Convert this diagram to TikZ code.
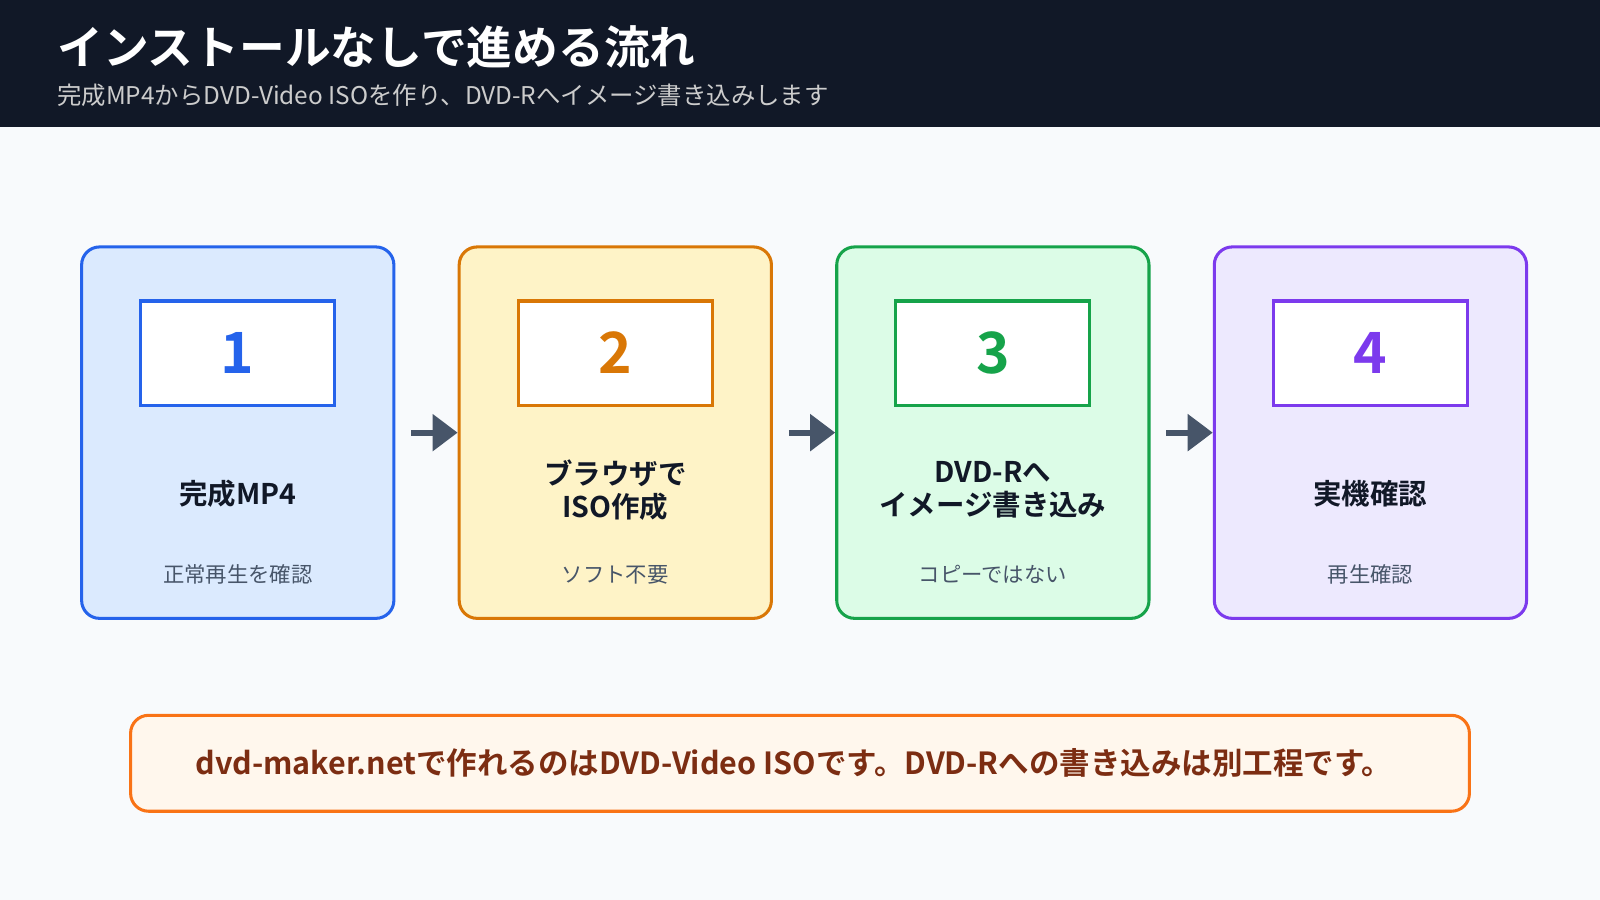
\documentclass[tikz,border=0pt]{standalone}
\usepackage{fontspec}
\setmainfont{Noto Sans CJK JP}[BoldFont={Noto Sans CJK JP Bold}]
\usetikzlibrary{arrows.meta}
\definecolor{header}{HTML}{111827}
\definecolor{fundo}{HTML}{F8FAFC}
\definecolor{cinza}{HTML}{475569}
\definecolor{azul}{HTML}{2563EB}\definecolor{azulc}{HTML}{DBEAFE}
\definecolor{laranja}{HTML}{D97706}\definecolor{laranjac}{HTML}{FEF3C7}
\definecolor{verde}{HTML}{16A34A}\definecolor{verdec}{HTML}{DCFCE7}
\definecolor{roxo}{HTML}{7C3AED}\definecolor{roxoc}{HTML}{EDE9FE}
\definecolor{notab}{HTML}{F97316}\definecolor{notaf}{HTML}{FFF7ED}\definecolor{notat}{HTML}{7C2D12}
\newcommand{\px}[1]{\fontsize{\fpeval{#1*0.567}pt}{\fpeval{#1*0.7}pt}\selectfont}
\newcommand{\titulo}[1]{\begin{tabular}{c}#1\end{tabular}}
\tikzset{
  cartao/.style={draw=#1, fill=#1c, line width=1.7pt, rounded corners=10pt, minimum width=61.2mm, minimum height=72.8mm},
  numero/.style={draw=#1, fill=white, line width=1.7pt, minimum width=38mm, minimum height=20.4mm, text=#1, font=\px{56}\bfseries},
  nome/.style={font=\px{28}\bfseries, text=header, align=center},
  sub/.style={font=\px{21}, text=cinza},
  seta/.style={draw=cinza, line width=3.4pt, -{Triangle[length=14pt, width=20pt]}}
}
\begin{document}
\begin{tikzpicture}[x=0.2mm, y=-0.2mm]
    \useasboundingbox (0,0) rectangle (1568,882);
    \fill[fundo] (0,0) rectangle (1568,882);
    \fill[header] (0,0) rectangle (1568,124);
    \node[anchor=west, text=white, font=\px{45}\bfseries] (titulo) at (50,46) {インストールなしで進める流れ};
    \node[anchor=west, text=gray!40, font=\px{24}] (subtitulo) at (50,93) {完成MP4からDVD-Video ISOを作り、DVD-Rへイメージ書き込みします};

    \node[cartao=azul] (c1) at (233,424) {};
    \node[cartao=laranja] (c2) at (603,424) {};
    \node[cartao=verde] (c3) at (973,424) {};
    \node[cartao=roxo] (c4) at (1343,424) {};

    \node[numero=azul] (n1) at (233,346) {1};
    \node[numero=laranja] (n2) at (603,346) {2};
    \node[numero=verde] (n3) at (973,346) {3};
    \node[numero=roxo] (n4) at (1343,346) {4};

    \node[nome] (t1) at (233,484) {完成MP4};
    \node[nome] (t2) at (603,484) {\titulo{ブラウザで\\[-1pt]ISO作成}};
    \node[nome] (t3) at (973,482) {\titulo{DVD-Rへ\\[-1pt]イメージ書き込み}};
    \node[nome] (t4) at (1343,484) {実機確認};

    \node[sub] (s1) at (233,563) {正常再生を確認};
    \node[sub] (s2) at (603,563) {ソフト不要};
    \node[sub] (s3) at (973,563) {コピーではない};
    \node[sub] (s4) at (1343,563) {再生確認};

    \coordinate (a1) at (403,424);
    \coordinate (a2) at (773,424);
    \coordinate (a3) at (1143,424);
    \draw[seta] (a1) -- (c2.west);
    \draw[seta] (a2) -- (c3.west);
    \draw[seta] (a3) -- (c4.west);

    \node[draw=notab, fill=notaf, line width=1.7pt, rounded corners=10pt, minimum width=262.4mm, minimum height=18.8mm] (nota) at (784,748) {};
    \node[text=notat, font=\px{30}\bfseries] (notatexto) at (778,748) {dvd-maker.netで作れるのはDVD-Video ISOです。DVD-Rへの書き込みは別工程です。};
  \end{tikzpicture}
\end{document}
